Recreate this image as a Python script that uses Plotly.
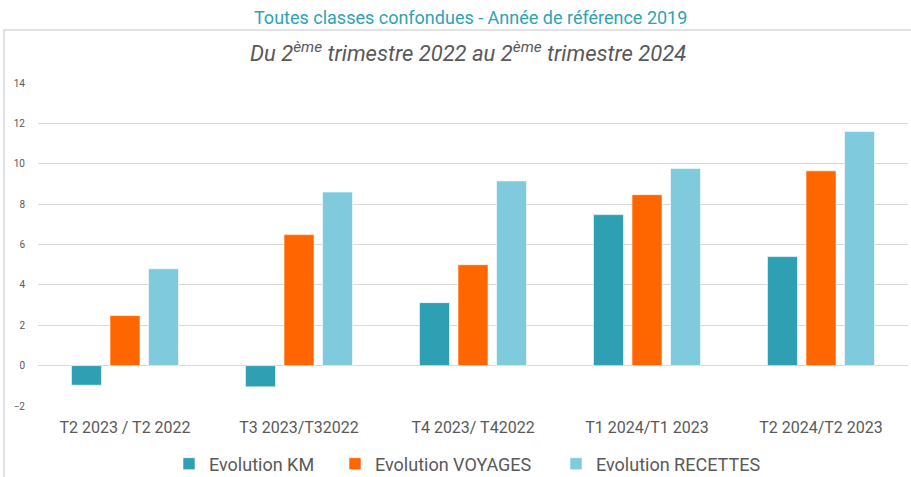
import plotly.graph_objects as go

categories = ["T2 2023 / T2 2022", "T3 2023/T32022", "T4 2023/ T42022", "T1 2024/T1 2023", "T2 2024/T2 2023"]
evol_km = [-0.97, -1.05, 3.12, 7.48, 5.4]
evol_voyages = [2.48, 6.49, 5.0, 8.47, 9.65]
evol_recettes = [4.8, 8.6, 9.15, 9.77, 11.6]
y_ticks = [-2, 0, 2, 4, 6, 8, 10, 12, 14]

FONT = "Roboto, sans-serif"

W, H = 911, 477
L, R, T, B = 38, 3, 83, 71
pw, ph = W - L - R, H - T - B

def px(x):
    return (x - L) / pw

def py(y):
    return (H - B - y) / ph

series = [
    ("Evolution KM", evol_km, "#2F9FB4", "legend", 185),
    ("Evolution VOYAGES", evol_voyages, "#FF6600", "legend2", 351),
    ("Evolution RECETTES", evol_recettes, "#7FCBDD", "legend3", 572),
]

fig = go.Figure()
legends = {}
for name, vals, color, leg, swatch_x in series:
    fig.add_trace(go.Bar(x=categories, y=vals, name=name, legend=leg,
                         marker=dict(color=color, line=dict(color="rgba(255,255,255,0.6)", width=1))))
    legends[leg] = dict(orientation="h", x=px(swatch_x - 16), xanchor="left", y=py(464), yanchor="middle",
                        font=dict(size=18, color="#595959"), itemwidth=30, bgcolor="rgba(0,0,0,0)")

fig.update_layout(
    width=W, height=H,
    margin=dict(l=L, r=R, t=T, b=B, autoexpand=False),
    paper_bgcolor="white", plot_bgcolor="white",
    barmode="group", bargap=0.336, bargroupgap=0.22,
    font=dict(family=FONT, color="#595959"),
    showlegend=True,
    **legends,
    xaxis=dict(showgrid=False, showline=False, ticks="", tickfont=dict(size=16, color="#595959"),
               ticklabelstandoff=10, automargin=False),
    yaxis=dict(range=[-2, 14], tickvals=y_ticks, showgrid=True, gridcolor="#D9D9D9", gridwidth=1,
               zeroline=True, zerolinecolor="#D9D9D9", zerolinewidth=1, showline=False, ticks="",
               tickfont=dict(size=10, color="#595959"), ticklabelstandoff=12, automargin=False),
    annotations=[
        dict(text="Toutes classes confondues - Année de référence 2019", xref="paper", yref="paper",
             x=px(470), y=py(18), xanchor="center", yanchor="middle", showarrow=False,
             font=dict(size=18, color="#2EA2B5", family=FONT)),
        dict(text="<i>Du 2<sup>ème</sup> trimestre 2022 au 2<sup>ème</sup> trimestre 2024</i>",
             xref="paper", yref="paper", x=px(468), y=py(52), xanchor="center", yanchor="middle",
             showarrow=False, font=dict(size=22, color="#595959", family=FONT)),
    ],
    shapes=[
        dict(type="rect", xref="paper", yref="paper", x0=px(4), x1=px(913), y0=py(480), y1=py(30),
             line=dict(color="#D9D9D9", width=1.5), fillcolor="rgba(0,0,0,0)", layer="below"),
    ],
)

fig.write_html("out.html", config={"displayModeBar": False},
               post_script="document.body.style.margin='0';document.body.style.overflow='hidden';")
